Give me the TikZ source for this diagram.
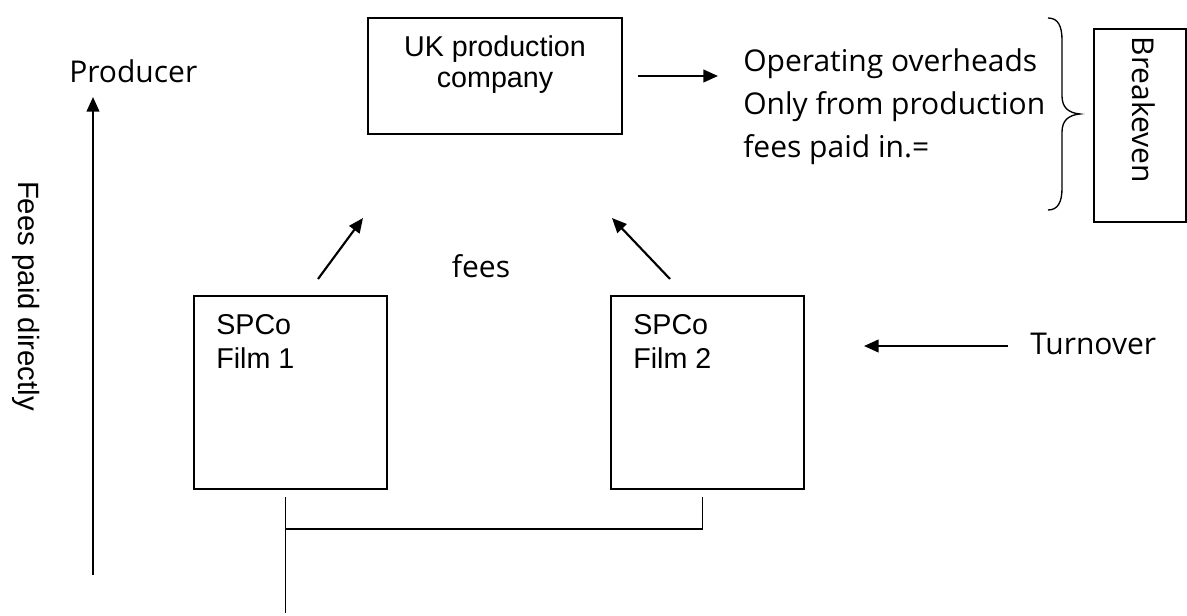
\documentclass[tikz,border=0pt]{standalone}
\usepackage{fontspec}
\setmainfont{Liberation Sans}
\newfontfamily\hfont{Open Sans}
\usetikzlibrary{arrows.meta,calc}
\begin{document}
\begin{tikzpicture}[x=0.75pt,y=-0.75pt,
  box/.style={draw, line width=1.4pt, inner sep=0pt, outer sep=0pt},
  arr/.style={line width=1.6pt, -{Triangle[length=11pt,width=9.5pt]}},
  conn/.style={line width=1.4pt},
  lbl/.style={font=\hfont\fontsize{22.5}{32.25}\selectfont, inner sep=0pt},
  boxtxt/.style={font=\fontsize{21.5}{24.75}\selectfont, inner sep=0pt, align=left}]
\useasboundingbox[fill=white] (0,0) rectangle (1187,616);

% boxes
\node[box, minimum width=190.5pt, minimum height=87pt] (uk) at (495,76) {};
\node[boxtxt, align=center, anchor=base, font=\fontsize{21.5}{23.25}\selectfont] (uktxt) at (495,88) {UK production\\company};
\node[box, minimum width=144.75pt, minimum height=144.75pt] (b1) at (290.5,392.5) {};
\node[boxtxt, anchor=base west] (b1t) at (216,368) {SPCo\\Film 1};
\node[box, minimum width=144.75pt, minimum height=144.75pt] (b2) at (707.5,392.5) {};
\node[boxtxt, anchor=base west] (b2t) at (633,368) {SPCo\\Film 2};
\node[box, minimum width=69pt, minimum height=144.75pt] (be) at (1140,125.5) {};
\node[lbl, rotate=-90] (bet) at (1144,110) {Breakeven};

% labels
\node[lbl, anchor=base west] (prod) at (69,83) {Producer};
\node[font=\fontsize{22}{26}\selectfont, rotate=-90, inner sep=0pt] (fpd) at (26,296) {Fees paid directly};
\node[lbl, align=left, anchor=base west] (ops) at (743,158) {Operating overheads\\Only from production\\fees paid in.=};
\node[lbl, anchor=base] (fees) at (481,277) {fees};
\node[lbl, anchor=base west] (turn) at (1030,354) {Turnover};

% arrows
\coordinate (pb) at (93,575);
\draw[arr] (pb) -- ($(prod.base west)+(24,14)$);
\draw[arr] ($(uk.east)+(16,0)$) -- ($(ops.base west |- uk.east)+(-25,0)$);
\draw[arr] ($(b1.north)+(27.5,-17)$) -- ($(uk.south west)+(-5,84)$);
\draw[arr] ($(b2.north)+(-37.5,-17)$) -- ($(uk.south east)+(-10,84)$);
\draw[arr] ($(turn.base west)+(-22,-8)$) -- ($(b2.east |- turn.base west)+(60,-8)$);

% bottom connectors
\coordinate (j) at ($(b1.south)+(-5,40)$);
\coordinate (bot) at ($(j)+(0,84)$);
\draw[conn] ($(b1.south)+(-5,8)$) -- (j);
\draw[conn] ($(b2.south)+(-5,8)$) |- (j);
\draw[conn] (j) -- (bot);

% brace
\draw[line width=1pt] (1048,18) .. controls (1058,18) and (1062,26) .. (1062,40) -- (1062,96) .. controls (1062,107) and (1068,113) .. (1080,114) .. controls (1068,115) and (1062,121) .. (1062,132) -- (1062,188) .. controls (1062,202) and (1058,210) .. (1048,210);
\end{tikzpicture}
\end{document}
